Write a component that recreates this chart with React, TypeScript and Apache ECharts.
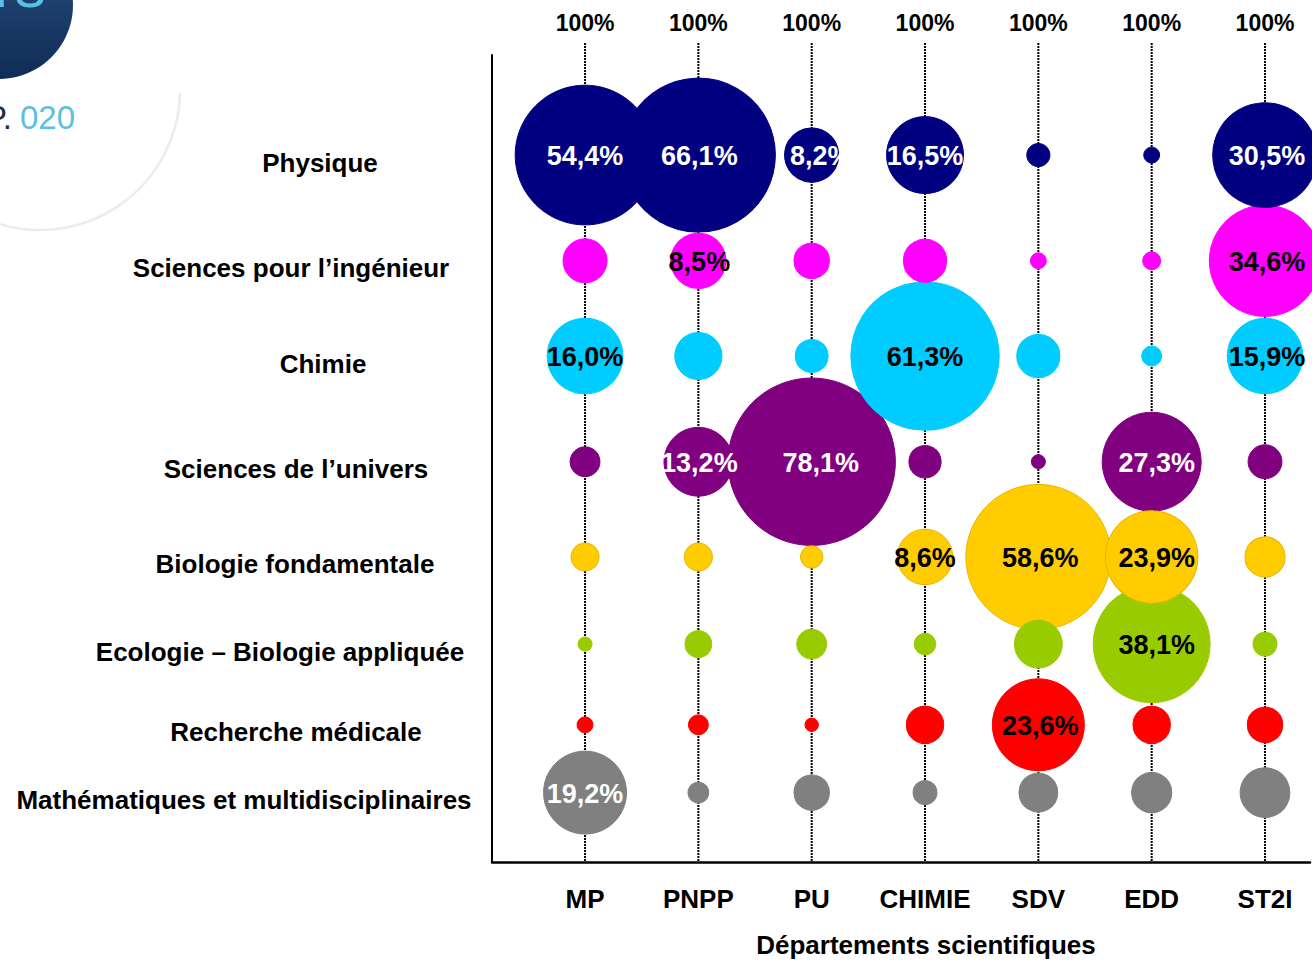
import React, { useEffect, useRef } from "react";
import * as echarts from "echarts";

// ---- Data ----
const departments = ["MP", "PNPP", "PU", "CHIMIE", "SDV", "EDD", "ST2I"];
const topTotals = ["100%", "100%", "100%", "100%", "100%", "100%", "100%"];
const disciplines = [
  "Physique",
  "Sciences pour l’ingénieur",
  "Chimie",
  "Sciences de l’univers",
  "Biologie fondamentale",
  "Ecologie – Biologie appliquée",
  "Recherche médicale",
  "Mathématiques et multidisciplinaires",
];
// vertical level of each discipline row (axis units, 0 = top, 100 = bottom)
const rowLevels = [12.4, 25.5, 37.3, 50.4, 62.2, 73.0, 83.0, 91.4];

// share (%) of each discipline per department (MP, PNPP, PU, CHIMIE, SDV, EDD, ST2I)
const physique = [54.4, 66.1, 8.2, 16.5, 1.5, 0.7, 30.5];
const sciencesIngenieur = [5.4, 8.5, 3.5, 5.2, 0.7, 0.9, 34.6];
const chimie = [16.0, 6.2, 3.0, 61.3, 5.2, 1.1, 15.9];
const sciencesUnivers = [2.5, 13.2, 78.1, 2.9, 0.55, 27.3, 3.2];
const biologieFondamentale = [2.2, 2.2, 1.4, 8.6, 58.6, 23.9, 4.5];
const ecologie = [0.55, 2.0, 2.5, 1.3, 6.4, 38.1, 1.6];
const rechercheMedicale = [0.7, 1.1, 0.5, 3.9, 23.6, 3.9, 3.5];
const mathematiques = [19.2, 1.2, 3.5, 1.6, 4.2, 4.5, 6.9];

const rows = [
  physique,
  sciencesIngenieur,
  chimie,
  sciencesUnivers,
  biologieFondamentale,
  ecologie,
  rechercheMedicale,
  mathematiques,
];

// ---- Styles ----
const rowColors = ["#000080", "#FF00FF", "#00CCFF", "#800080", "#FFCC00", "#99CC00", "#FF0000", "#808080"];
const rowBorders = ["#000080", "#FF00FF", "#00CCFF", "#800080", "#E8B400", "#99CC00", "#FF0000", "#808080"];
const rowLabelColors = ["#fff", "#000", "#000", "#fff", "#000", "#000", "#000", "#fff"];
const rowLabelCenters = [320, 291, 323, 296, 295, 280, 296, 244];
const colLabelShift = [0, 1, 9, 0, 2, 5, 2];
const FONT = "'Liberation Sans', Arial, Helvetica, sans-serif";
const labelThreshold = 8;
const bubbleScale = 18.94;

const fmt = (v: number) => v.toFixed(1).replace(".", ",") + "%";

export default function App() {
  const ref = useRef<HTMLDivElement>(null);

  useEffect(() => {
    if (!ref.current) return;
    const chart = echarts.init(ref.current, null, { renderer: "svg" });

    const gridLeft = 492;
    const gridRight = 2;
    const gridTop = 55;
    const gridBottom = 98;
    const xMin = 0.179;
    const xMax = 7.397;
    const labelAnchor = 295;

    const bubbles: any[] = [];
    rows.forEach((vals, r) => {
      vals.forEach((v, c) => {
        bubbles.push({
          value: [c + 1, rowLevels[r], v],
          itemStyle: { color: rowColors[r], opacity: 1, borderColor: rowBorders[r], borderWidth: 1 },
          label: {
            show: v >= labelThreshold,
            formatter: () => fmt(v),
            color: rowLabelColors[r],
            offset: [colLabelShift[c], 1],
          },
        });
      });
    });
    // larger bubbles first so smaller ones stay on top
    bubbles.sort((a, b) => b.value[2] - a.value[2]);

    const rich: any = {};
    disciplines.forEach((_, i) => {
      const dx = rowLabelCenters[i] - labelAnchor;
      rich["r" + i] = {
        fontSize: 26,
        fontWeight: "bold",
        color: "#000",
        fontFamily: FONT,
        padding: [15, dx < 0 ? -2 * dx : 0, 0, dx > 0 ? 2 * dx : 0],
      };
    });

    const colValues = departments.map((_, i) => i + 1);

    chart.setOption({
      animation: false,
      backgroundColor: "#fff",
      textStyle: { fontFamily: FONT },
      graphic: [
        {
          type: "arc",
          shape: { cx: 40, cy: 90, r: 140, startAngle: 0.02, endAngle: 1.95 },
          style: { stroke: "#ebebf0", lineWidth: 2.5, fill: null },
          z: 0,
        },
        {
          type: "circle",
          shape: { cx: -1, cy: 5, r: 74 },
          style: {
            fill: {
              type: "linear",
              x: 0,
              y: 0,
              x2: 0,
              y2: 1,
              colorStops: [
                { offset: 0, color: "#2b5283" },
                { offset: 1, color: "#0f2c55" },
              ],
            },
          },
          z: 0,
        },
        {
          type: "text",
          x: -6,
          y: 16,
          style: {
            text: "rs",
            fill: "#56c2e6",
            font: "62px " + FONT,
            verticalAlign: "bottom",
          },
          z: 1,
        },
        {
          type: "text",
          x: 12,
          y: 134,
          style: {
            text: "P.",
            fill: "#1e2c4c",
            font: "33px " + FONT,
            align: "right",
            verticalAlign: "bottom",
          },
        },
        {
          type: "text",
          x: 20,
          y: 134,
          style: {
            text: "020",
            fill: "#5bbfe0",
            font: "33px " + FONT,
            align: "left",
            verticalAlign: "bottom",
          },
        },
      ],
      grid: {
        left: gridLeft,
        right: gridRight,
        top: gridTop,
        bottom: gridBottom,
        containLabel: false,
        outerBoundsMode: "none",
      },
      xAxis: [
        {
          type: "value",
          position: "bottom",
          min: xMin,
          max: xMax,
          axisLine: { show: true, onZero: false, lineStyle: { color: "#000", width: 2.5 } },
          axisTick: { show: false },
          splitLine: { show: false },
          axisLabel: {
            customValues: colValues,
            formatter: (v: number) => departments[Math.round(v) - 1] ?? "",
            fontSize: 26,
            fontWeight: "bold",
            color: "#000",
            fontFamily: FONT,
            margin: 24,
          },
          name: "Départements scientifiques",
          nameLocation: "middle",
          nameGap: 70,
          nameTextStyle: {
            fontSize: 26,
            fontWeight: "bold",
            color: "#000",
            fontFamily: FONT,
            padding: [0, 0, 0, 50],
          },
        },
        {
          type: "value",
          position: "top",
          min: xMin,
          max: xMax,
          axisLine: { show: false },
          axisTick: { show: false },
          splitLine: { show: false },
          axisLabel: {
            customValues: colValues,
            formatter: (v: number) => topTotals[Math.round(v) - 1] ?? "",
            fontSize: 23,
            fontWeight: "bold",
            color: "#000",
            fontFamily: FONT,
            margin: 21,
          },
        },
      ],
      yAxis: {
        type: "value",
        inverse: true,
        min: 0,
        max: 100,
        axisLine: { show: true, onZero: false, lineStyle: { color: "#000", width: 2 } },
        axisTick: { show: false },
        splitLine: { show: false },
        axisLabel: {
          customValues: rowLevels,
          formatter: (v: number) => {
            const idx = rowLevels.findIndex((r) => Math.abs(r - v) < 1e-6);
            if (idx < 0) return "";
            return "{r" + idx + "|" + disciplines[idx] + "}";
          },
          rich,
          align: "center",
          margin: gridLeft - labelAnchor,
        },
      },
      series: [
        {
          type: "custom",
          xAxisIndex: 0,
          yAxisIndex: 0,
          silent: true,
          clip: false,
          z: 1,
          data: colValues.map((c) => [c, 0]),
          renderItem: (params: any, api: any) => {
            const x = api.value(0);
            const top = api.coord([x, 0]);
            const bottom = api.coord([x, 100]);
            return {
              type: "line",
              shape: { x1: top[0], y1: top[1] - 12, x2: bottom[0], y2: bottom[1] },
              style: { stroke: "#000", lineWidth: 2, lineDash: [2, 1] },
            };
          },
        },
        {
          type: "scatter",
          xAxisIndex: 0,
          yAxisIndex: 0,
          z: 2,
          silent: true,
          symbolSize: (v: number[]) => bubbleScale * Math.sqrt(v[2]),
          data: bubbles,
          label: {
            position: "inside",
            fontSize: 27,
            fontWeight: "bold",
            fontFamily: FONT,
          },
          emphasis: { disabled: true },
        },
      ],
    });

    return () => chart.dispose();
  }, []);

  return (
    <div
      ref={ref}
      style={{ position: "fixed", left: 0, top: 0, width: 1312, height: 960, background: "#fff" }}
    />
  );
}
